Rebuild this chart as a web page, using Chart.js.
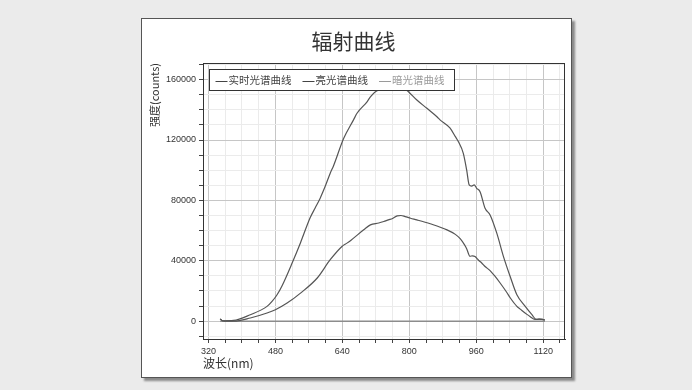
<!DOCTYPE html>
<html lang="zh-CN">
<head>
<meta charset="utf-8">
<title>辐射曲线</title>
<script src="https://cdn.jsdelivr.net/npm/chart.js@4/dist/chart.umd.min.js"></script>
<style>
  html, body { margin: 0; padding: 0; background: #ebebeb; }
  body { width: 692px; height: 390px; position: relative; overflow: hidden; }
  #painel {
    position: absolute; left: 141px; top: 18px; width: 429px; height: 358px;
    background: #fff; border: 1px solid #555; box-shadow: 3px 3px 2px #8a8a8a;
  }
  canvas { display: block; }
</style>
</head>
<body>
<div id="painel"><canvas id="grafico" width="429" height="358"></canvas></div>
<script>
  // 实时光谱曲线 (中间那条)
  const ssX = [348, 354, 380, 420, 460, 480, 508, 540, 580, 611, 639, 651, 660, 691, 707, 727, 739, 750, 760, 771,
               780, 790, 803, 818, 850, 890, 910, 922, 932, 937, 945, 951, 957, 965, 973, 981, 993, 1005, 1017, 1033,
               1041, 1057, 1065, 1081, 1089, 1100, 1110, 1118, 1124];
  const ssY = [1500, 200, 0, 2100, 5400, 7600, 12000, 18600, 28600, 40700, 49500, 51700, 53500, 60500, 63800, 65000, 66000, 67100, 68000, 69800,
               70000, 69300, 68200, 67100, 64500, 60500, 57500, 54500, 50500, 48000, 43000, 43300, 42800, 40500, 38500, 36200, 33500, 29600, 25300, 19000,
               15500, 9800, 8000, 4500, 3000, 1200, 1300, 1200, 800];

  // 亮光谱曲线 (最高那条)
  const liangX = [348, 354, 380, 420, 460, 472, 484, 496, 520, 540, 563, 575, 587, 600, 611, 619, 643, 667, 675, 699,
                  707, 719, 731, 745, 765, 785, 798, 818, 842, 866, 874, 897, 910, 917, 929, 937, 943, 949, 955, 961,
                  969, 981, 993, 1009, 1025, 1041, 1057, 1077, 1093, 1103, 1110, 1118, 1124];
  const liangY = [1500, 300, 500, 4300, 9800, 13100, 17500, 23500, 38500, 52000, 68500, 75000, 81500, 90000, 98000, 103000, 121000, 133500, 137700, 145300,
                  148600, 152000, 153500, 156000, 157500, 155000, 152000, 146500, 141000, 135400, 133200, 128000, 122200, 119000, 111200, 100200, 90300, 89500, 90300, 88000,
                  85800, 74800, 70400, 58300, 42800, 29600, 17500, 9800, 4300, 1200, 1300, 1200, 800];

  // 暗光谱曲线 (零线)
  const anX = [348, 500, 700, 900, 1124];
  const anY = [0, 0, 0, 0, 0];

  // 刻度: 小刻度 + 带文字的大刻度
  const xMarcas = [320, 360, 400, 440, 480, 520, 560, 600, 640, 680, 720, 760, 800, 840, 880, 920, 960, 1000, 1040, 1080, 1120, 1160];
  const xRotulos = [320, 480, 640, 800, 960, 1120];
  const yMarcas = [-10000, 0, 10000, 20000, 30000, 40000, 50000, 60000, 70000, 80000, 90000, 100000,
                   110000, 120000, 130000, 140000, 150000, 160000, 170000];
  const yRotulos = [0, 40000, 80000, 120000, 160000];

  const X_MIN = 307, X_MAX = 1172;
  const Y_MIN = -11800, Y_MAX = 171000;

  const FONTE_CJK = "'Noto Sans CJK SC', 'Noto Sans', sans-serif";
  const FONTE_NUM = "'Liberation Sans', Arial, sans-serif";
  const GRADE_FORTE = '#c6c6c6';
  const GRADE_FRACA = '#ebebeb';
  const ESCURO = '#555555';
  const CLARO = '#8c8c8c';

  function pares(xs, ys) { return xs.map(function (x, i) { return { x: x, y: ys[i] }; }); }
  function marcas(lista) { return function (s) { s.ticks = lista.map(function (v) { return { value: v }; }); }; }
  function ehRotulo(lista, v) { return lista.indexOf(v) >= 0; }

  // moldura da área de plotagem + legenda interna com fundo branco
  const molduraLegenda = {
    id: 'molduraLegenda',
    afterDraw: function (chart) {
      const ctx = chart.ctx, a = chart.chartArea;
      ctx.save();
      ctx.strokeStyle = '#333';
      ctx.lineWidth = 1;
      ctx.strokeRect(a.left + 0.5, a.top + 0.5, a.right - a.left - 1, a.bottom - a.top);

      ctx.font = '10.5px ' + FONTE_CJK;
      ctx.textBaseline = 'middle';
      const itens = chart.data.datasets.map(function (d) {
        return { texto: d.label, cor: d.legendColor, w: ctx.measureText(d.label).width };
      });
      const x0 = a.left + 6.5, y0 = a.top + 6.5, h = 21, traco = 13, gap = 11;
      let largura = 6 + 10;
      itens.forEach(function (it, i) { largura += traco + it.w + (i ? gap : 0); });
      ctx.fillStyle = '#fff';
      ctx.fillRect(x0, y0, largura, h);
      ctx.strokeStyle = '#333';
      ctx.strokeRect(x0, y0, largura, h);
      let x = x0 + 6;
      const ym = y0 + h / 2 + 0.5;
      itens.forEach(function (it) {
        ctx.strokeStyle = it.cor;
        ctx.beginPath();
        ctx.moveTo(x, Math.round(ym) + 0.5);
        ctx.lineTo(x + traco - 1, Math.round(ym) + 0.5);
        ctx.stroke();
        ctx.fillStyle = it.cor;
        ctx.fillText(it.texto, x + traco, ym);
        x += traco + it.w + gap;
      });
      ctx.restore();
    }
  };

  new Chart(document.getElementById('grafico'), {
    type: 'line',
    data: {
      datasets: [
        { label: '实时光谱曲线', data: pares(ssX, ssY), borderColor: ESCURO, legendColor: '#444' },
        { label: '亮光谱曲线', data: pares(liangX, liangY), borderColor: ESCURO, legendColor: '#444' },
        { label: '暗光谱曲线', data: pares(anX, anY), borderColor: CLARO, legendColor: '#9a9a9a', borderWidth: 1.6 }
      ]
    },
    options: {
      responsive: false,
      animation: false,
      elements: {
        line: { borderWidth: 1.2, tension: 0.3, cubicInterpolationMode: 'monotone', fill: false },
        point: { radius: 0, hoverRadius: 0 }
      },
      layout: { padding: { left: 0, right: 6, top: 0, bottom: 0 } },
      plugins: {
        legend: { display: false },
        tooltip: { enabled: false },
        title: {
          display: true, text: '辐射曲线', color: '#333',
          font: { family: FONTE_CJK, size: 21, weight: 'normal' },
          padding: { top: 9, bottom: 9.8 }
        }
      },
      scales: {
        x: {
          type: 'linear', min: X_MIN, max: X_MAX,
          afterBuildTicks: marcas(xMarcas),
          afterFit: function (s) { s.height = 38; },
          ticks: {
            autoSkip: false, maxRotation: 0,
            color: '#333', padding: 3, font: { family: FONTE_NUM, size: 9 },
            callback: function (v) { return ehRotulo(xRotulos, v) ? String(v) : ''; }
          },
          grid: {
            color: function (c) { return c.tick && ehRotulo(xRotulos, c.tick.value) ? GRADE_FORTE : GRADE_FRACA; },
            tickColor: '#444', tickLength: 4
          },
          border: { display: true, color: '#333' },
          title: {
            display: true, text: '波长(nm)', align: 'start', color: '#333',
            font: { family: FONTE_CJK, size: 12 }, padding: { top: 0, bottom: 6.5 }
          }
        },
        y: {
          type: 'linear', min: Y_MIN, max: Y_MAX,
          afterBuildTicks: marcas(yMarcas),
          afterFit: function (s) { s.width = 61; },
          ticks: {
            autoSkip: false,
            color: '#333', padding: 3, font: { family: FONTE_NUM, size: 9 },
            callback: function (v) { return ehRotulo(yRotulos, v) ? String(v) : ''; }
          },
          grid: {
            color: function (c) { return c.tick && ehRotulo(yRotulos, c.tick.value) ? GRADE_FORTE : GRADE_FRACA; },
            tickColor: '#444', tickLength: 4
          },
          border: { display: true, color: '#333' },
          title: {
            display: true, text: '强度(counts)', align: 'end', color: '#333',
            font: { family: FONTE_CJK, size: 11 }, padding: { top: 6, bottom: 0 }
          }
        }
      }
    },
    plugins: [molduraLegenda]
  });
</script>
</body>
</html>
